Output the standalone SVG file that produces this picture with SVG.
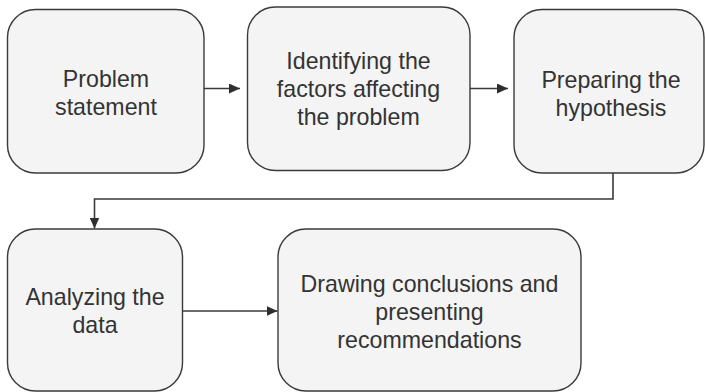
<svg xmlns="http://www.w3.org/2000/svg" width="705" height="392" viewBox="0 0 705 392">
<style>
.box{fill:#f4f4f4;stroke:#3a3a3a;stroke-width:1.4}
.t{font-family:"Liberation Sans",Arial,sans-serif;font-size:23.2px;fill:#333333;text-anchor:middle}
.c{fill:none;stroke:#3a3a3a;stroke-width:1.6}
</style>
<defs>
<marker id="ah" markerWidth="11" markerHeight="10" refX="11" refY="5" orient="auto" markerUnits="userSpaceOnUse">
<path d="M0,0 L11,5 L0,10 Z" fill="#2e2e2e"/>
</marker>
</defs>
<rect width="705" height="392" fill="#ffffff"/>
<g id="connectors">
<line class="c" x1="204" y1="88.5" x2="240" y2="88.5" marker-end="url(#ah)"/>
<line class="c" x1="470" y1="88.5" x2="508" y2="88.5" marker-end="url(#ah)"/>
<polyline class="c" points="613,173 613,199 94.5,199 94.5,228.5" marker-end="url(#ah)"/>
<line class="c" x1="183" y1="311" x2="277.5" y2="311" marker-end="url(#ah)"/>
</g>
<g id="n1">
<rect class="box" x="7.5" y="9.5" width="196.5" height="163.5" rx="28"/>
<text class="t" x="106" y="87">Problem</text>
<text class="t" x="106" y="115">statement</text>
</g>
<g id="n2">
<rect class="box" x="247.5" y="7" width="222.5" height="163.5" rx="28"/>
<text class="t" x="358.5" y="69">Identifying the</text>
<text class="t" x="358.5" y="97">factors affecting</text>
<text class="t" x="358.5" y="125">the problem</text>
</g>
<g id="n3">
<rect class="box" x="514" y="9.5" width="190" height="163.5" rx="28"/>
<text class="t" x="611" y="87.5">Preparing the</text>
<text class="t" x="611" y="115.5">hypothesis</text>
</g>
<g id="n4">
<rect class="box" x="7.5" y="229" width="175" height="162" rx="28"/>
<text class="t" x="95" y="305">Analyzing the</text>
<text class="t" x="95" y="333">data</text>
</g>
<g id="n5">
<rect class="box" x="278" y="229" width="303" height="162" rx="28"/>
<text class="t" x="429.5" y="291.5">Drawing conclusions and</text>
<text class="t" x="429.5" y="319.5">presenting</text>
<text class="t" x="429.5" y="347.5">recommendations</text>
</g>
</svg>
